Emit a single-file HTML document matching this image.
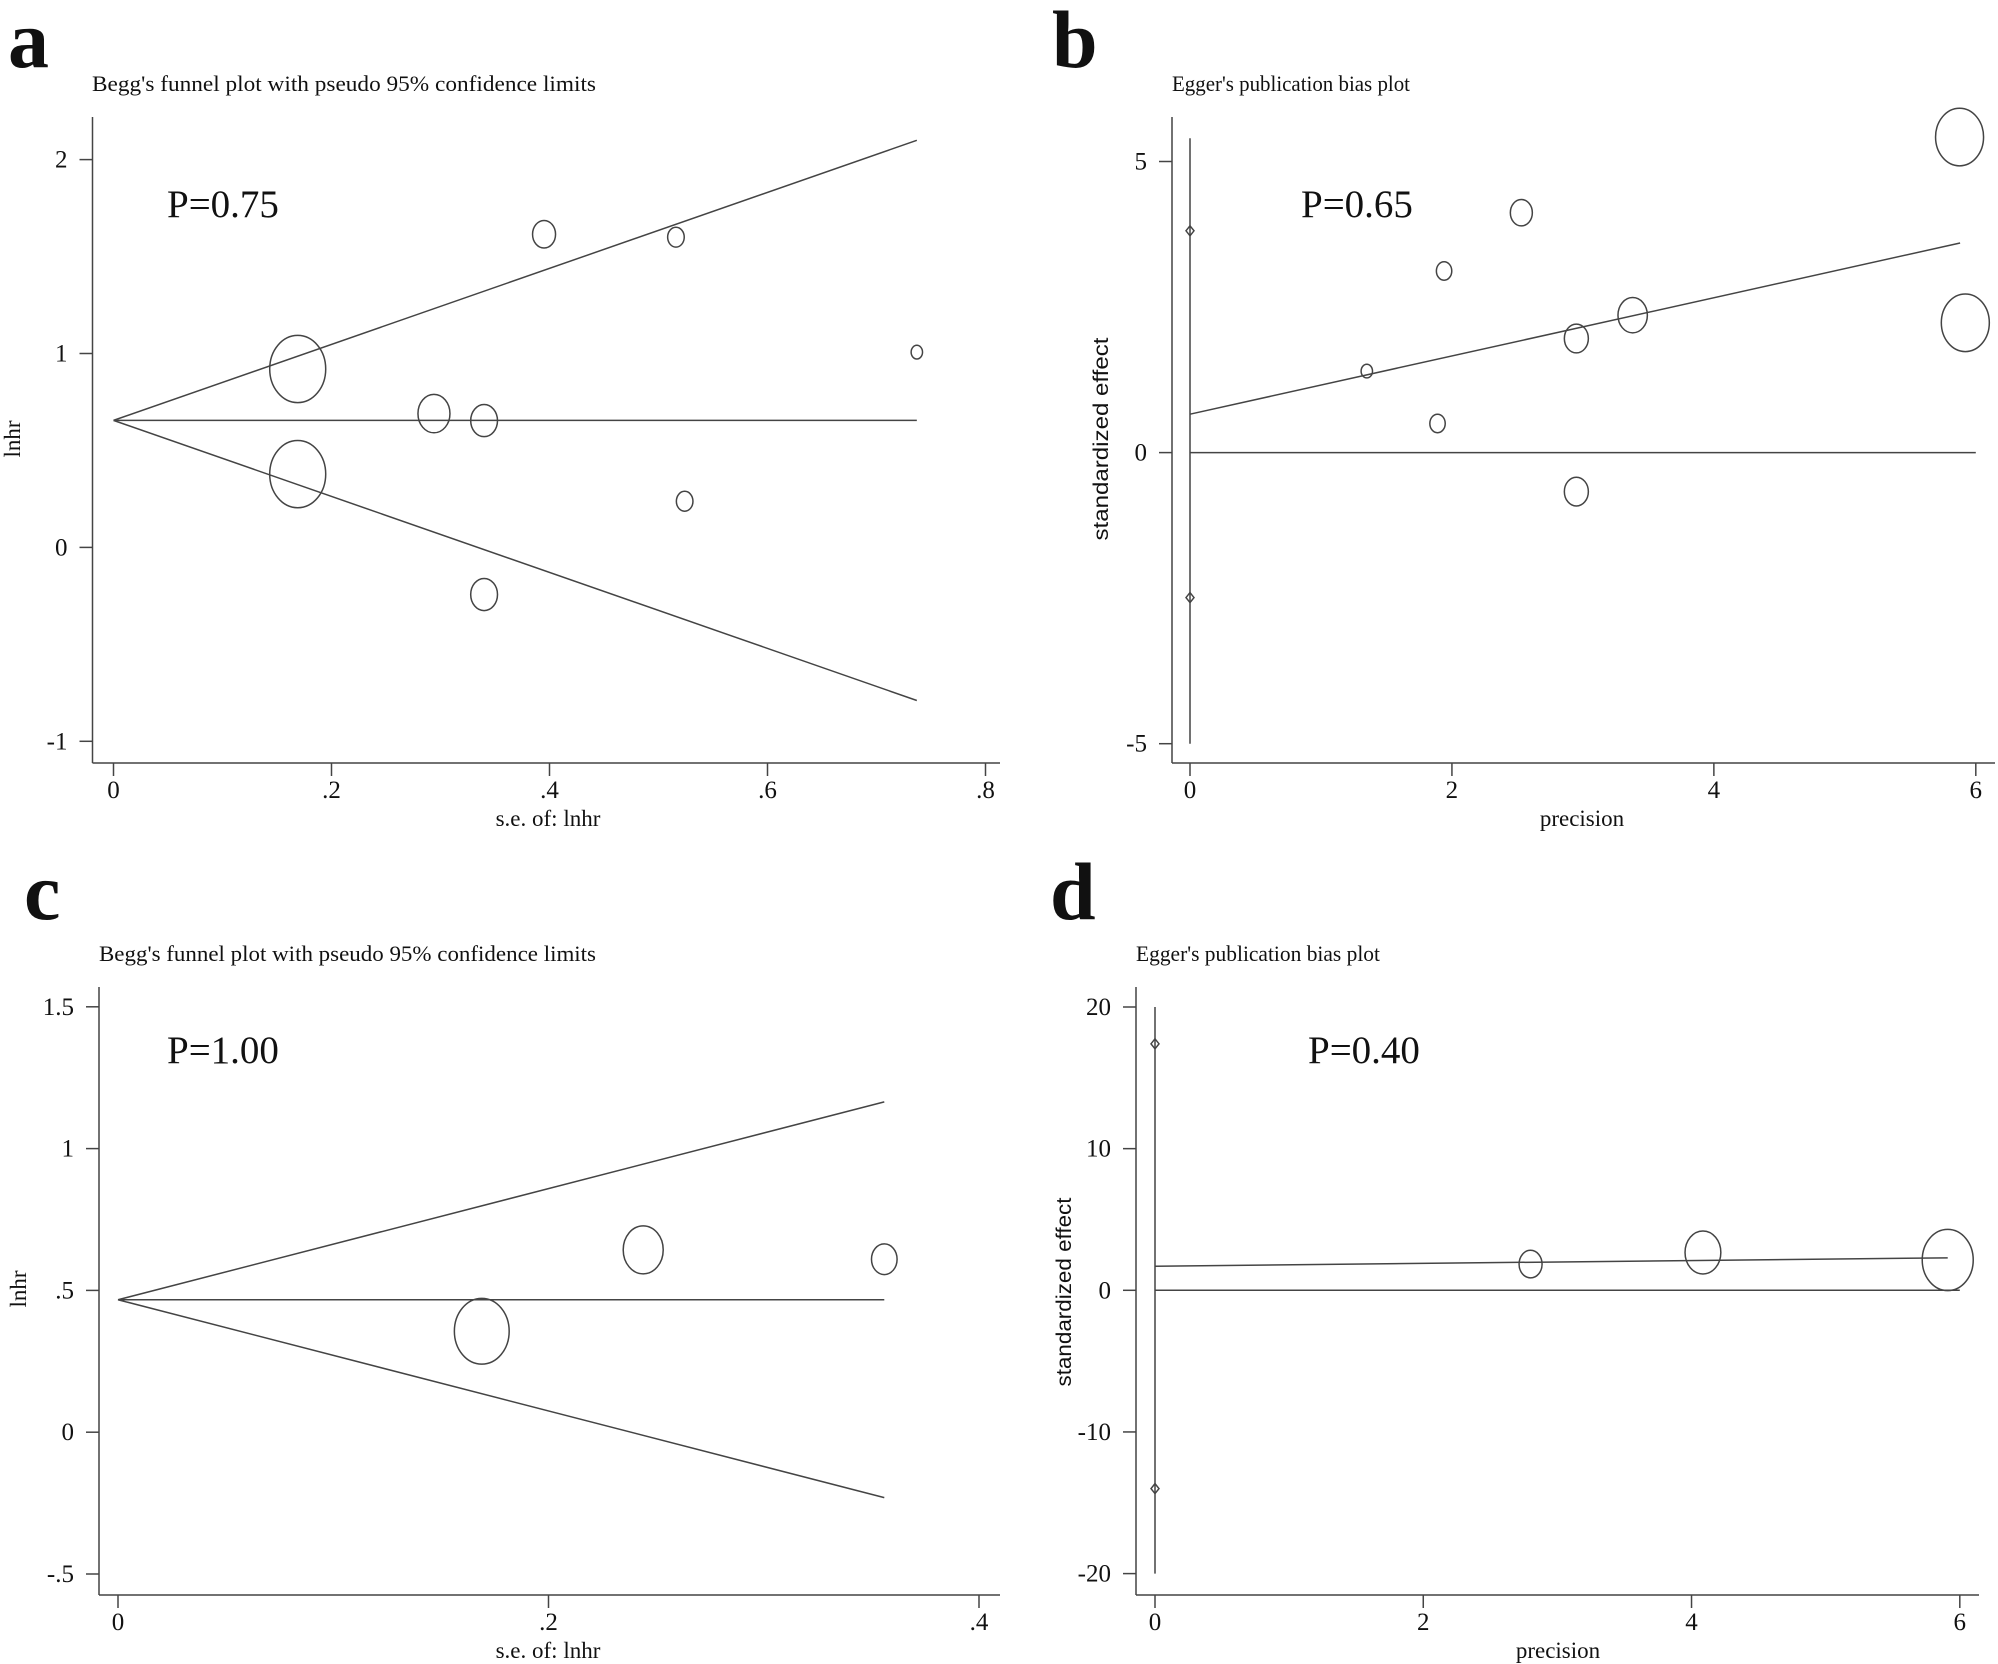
<!DOCTYPE html>
<html><head><meta charset="utf-8"><style>
html,body{margin:0;padding:0;background:#fff;}
svg{display:block;}
text{font-family:"Liberation Serif",serif;fill:#111;}
</style></head><body>
<svg id="fig" width="1998" height="1664" viewBox="0 0 1998 1664" xmlns="http://www.w3.org/2000/svg"></svg>
<script>
// Panel a data (Begg's funnel)
const aSE = [0.395, 0.516, 0.169, 0.169, 0.294, 0.340, 0.737, 0.524, 0.340];
const aLnhr = [1.615, 1.60, 0.92, 0.378, 0.69, 0.654, 1.007, 0.238, -0.243];
const aWeight = [11.5, 8.3, 28, 28, 16, 13.4, 5.7, 8.3, 13.4];
const aPooled = 0.655;
const aXTicks = [0, 0.2, 0.4, 0.6, 0.8];
const aXTickLabels = ["0", ".2", ".4", ".6", ".8"];
const aYTicks = [-1, 0, 1, 2];
const aYTickLabels = ["-1", "0", "1", "2"];
// Panel b data (Egger)
const bPrec = [5.876, 5.92, 2.53, 1.94, 3.38, 2.95, 1.35, 1.89, 2.95];
const bEffect = [5.42, 2.23, 4.12, 3.12, 2.36, 1.96, 1.40, 0.50, -0.67];
const bWeight = [24, 24, 11, 7.7, 14.7, 12, 5.7, 7.7, 12];
const bIntercept = 0.66, bSlope = 0.50, bCI = [3.81, -2.49];
const bXTicks = [0, 2, 4, 6];
const bYTicks = [-5, 0, 5];
// Panel c data
const cSE = [0.169, 0.244, 0.356];
const cLnhr = [0.356, 0.643, 0.61];
const cWeight = [27.4, 20, 12.8];
const cPooled = 0.467;
const cXTicks = [0, 0.2, 0.4];
const cXTickLabels = ["0", ".2", ".4"];
const cYTicks = [-0.5, 0, 0.5, 1, 1.5];
const cYTickLabels = ["-.5", "0", ".5", "1", "1.5"];
// Panel d data
const dPrec = [2.80, 4.085, 5.91];
const dEffect = [1.85, 2.67, 2.14];
const dWeight = [11.5, 17.9, 25.5];
const dIntercept = 1.70, dSlope = 0.10, dCI = [17.4, -14.0];
const dXTicks = [0, 2, 4, 6];
const dYTicks = [-20, -10, 0, 10, 20];

const NS = "http://www.w3.org/2000/svg";
const svg = document.getElementById("fig");
function el(tag, attrs, parent, txt){
  const e = document.createElementNS(NS, tag);
  for (const k in attrs) e.setAttribute(k, attrs[k]);
  if (txt !== undefined) e.textContent = txt;
  (parent || svg).appendChild(e);
  return e;
}
function lin(d0, d1, r0, r1){ return v => r0 + (v - d0) * (r1 - r0) / (d1 - d0); }

function panel(o){
  const g = el("g", {});
  
  
  const L = el("text", {x:o.letterX, y:o.letterY, "font-size":82, "font-weight":"bold"}, g, o.letter);
  
  
  const T = el("text", {x:o.titleX, y:o.titleY, "font-size":22, textLength:o.titleW, lengthAdjust:"spacingAndGlyphs"}, g, o.title);
  
  
  const sx = o.sx, sy = o.sy, st = {stroke:"#444", "stroke-width":1.5, fill:"none"};
  const ya = el("line", Object.assign({x1:o.axX, y1:o.axTop, x2:o.axX, y2:o.axBot}, st), g);
  
  
  const xa = el("line", Object.assign({x1:o.axX, y1:o.axBot, x2:o.axRight, y2:o.axBot}, st), g);
  
  
  o.yTicks.forEach((v, i) => {
    const y = sy(v);
    el("line", Object.assign({x1:o.axX-13, y1:y, x2:o.axX, y2:y}, st), g);
    const t = el("text", {x:o.axX-25, y:y+8, "font-size":25, "text-anchor":"end"}, g, o.yLabels[i]);
    
    
  });
  o.xTicks.forEach((v, i) => {
    const x = sx(v);
    el("line", Object.assign({x1:x, y1:o.axBot, x2:x, y2:o.axBot+13}, st), g);
    const t = el("text", {x:x, y:o.axBot+35, "font-size":25, "text-anchor":"middle"}, g, o.xLabels[i]);
    
    
  });
  const xt = el("text", {x:o.xTitleX, y:o.axBot+63, "font-size":23, "text-anchor":"middle"}, g, o.xTitle);
  
  
  const ya2 = {x:0, y:0, "font-size":o.yTitleSans?21:23, "text-anchor":"middle",
    style:o.yTitleSans?'font-family:"Liberation Sans",sans-serif':'',
    transform:`translate(${o.yTitleX},${o.yTitleY}) rotate(-90)`};
  if (o.yTitleW) { ya2.textLength = o.yTitleW; ya2.lengthAdjust = "spacingAndGlyphs"; }
  const yt = el("text", ya2, g, o.yTitle);
  
  
  const p = el("text", {x:o.pX, y:o.pY, "font-size":39}, g, o.pText);
  
  
  o.lines.forEach(l => {
    const ln = el("line", Object.assign({x1:sx(l[0]), y1:sy(l[1]), x2:sx(l[2]), y2:sy(l[3])}, st), g);
    
    
  });
  (o.diamonds||[]).forEach(v => {
    const cx = sx(0), cy = sy(v);
    const dm = el("polygon", Object.assign({points:`${cx},${cy-5} ${cx+4},${cy} ${cx},${cy+5} ${cx-4},${cy}`}, st), g);
    
    
  });
  o.xs.forEach((v, i) => {
    const e = el("ellipse", Object.assign({cx:sx(v), cy:sy(o.ys[i]), rx:o.w[i], ry:o.w[i]*1.2}, st), g);
    
    
  });
}

// a
{
  const sx = lin(0, 0.8, 113.5, 985.5), sy = lin(0, 1, 547.4, 353.5);
  const m = aSE.reduce((a,b)=>Math.max(a,b));
  panel({name:"panel-a", letter:"a", letterX:8, letterY:67, title:"Begg's funnel plot with pseudo 95% confidence limits",
    titleX:92, titleY:91, titleW:504, sx, sy, axX:92.5, axTop:117, axBot:763, axRight:1000,
    yTicks:aYTicks, yLabels:aYTickLabels, xTicks:aXTicks, xLabels:aXTickLabels,
    xTitle:"s.e. of: lnhr", xTitleX:548, yTitle:"lnhr", yTitleX:20, yTitleY:439,
    pText:"P=0.75", pX:167, pY:217,
    lines:[[0,aPooled,m,aPooled,"pooled-line"],[0,aPooled,m,aPooled+1.96*m,"upper-limit"],[0,aPooled,m,aPooled-1.96*m,"lower-limit"]],
    xs:aSE, ys:aLnhr, w:aWeight});
}
// b
{
  const sx = lin(0, 6, 1190, 1975.8), sy = lin(0, 5, 452.6, 161.5);
  panel({name:"panel-b", letter:"b", letterX:1052, letterY:67, title:"Egger's publication bias plot",
    titleX:1172, titleY:91, titleW:238, sx, sy, axX:1172, axTop:117, axBot:763, axRight:1995,
    yTicks:bYTicks, yLabels:bYTicks.map(String), xTicks:bXTicks, xLabels:bXTicks.map(String),
    xTitle:"precision", xTitleX:1582, yTitle:"standardized effect", yTitleSans:true, yTitleW:203, yTitleX:1108, yTitleY:439,
    pText:"P=0.65", pX:1301, pY:217,
    lines:[[0,5.4,0,-5,"ci-line"],[0,0,6,0,"zero-line"],[0,bIntercept,5.88,bIntercept+bSlope*5.88,"regression-line"]],
    diamonds:bCI, xs:bPrec, ys:bEffect, w:bWeight});
}
// c
{
  const sx = lin(0, 0.4, 118, 979), sy = lin(0, 1, 1432.2, 1148.6);
  const m = cSE.reduce((a,b)=>Math.max(a,b));
  panel({name:"panel-c", letter:"c", letterX:24, letterY:919, title:"Begg's funnel plot with pseudo 95% confidence limits",
    titleX:99, titleY:961, titleW:497, sx, sy, axX:99, axTop:987, axBot:1595, axRight:1000,
    yTicks:cYTicks, yLabels:cYTickLabels, xTicks:cXTicks, xLabels:cXTickLabels,
    xTitle:"s.e. of: lnhr", xTitleX:548, yTitle:"lnhr", yTitleX:26, yTitleY:1289,
    pText:"P=1.00", pX:167, pY:1063,
    lines:[[0,cPooled,m,cPooled,"pooled-line"],[0,cPooled,m,cPooled+1.96*m,"upper-limit"],[0,cPooled,m,cPooled-1.96*m,"lower-limit"]],
    xs:cSE, ys:cLnhr, w:cWeight});
}
// d
{
  const sx = lin(0, 6, 1155, 1959.8), sy = lin(0, 20, 1290.3, 1007);
  panel({name:"panel-d", letter:"d", letterX:1050, letterY:919, title:"Egger's publication bias plot",
    titleX:1136, titleY:961, titleW:244, sx, sy, axX:1136, axTop:987, axBot:1595, axRight:1979,
    yTicks:dYTicks, yLabels:dYTicks.map(String), xTicks:dXTicks, xLabels:dXTicks.map(String),
    xTitle:"precision", xTitleX:1558, yTitle:"standardized effect", yTitleSans:true, yTitleW:189, yTitleX:1071, yTitleY:1292,
    pText:"P=0.40", pX:1308, pY:1063,
    lines:[[0,20,0,-20,"ci-line"],[0,0,6,0,"zero-line"],[0,dIntercept,5.91,dIntercept+dSlope*5.91,"regression-line"]],
    diamonds:dCI, xs:dPrec, ys:dEffect, w:dWeight});
}
</script>
</body></html>
